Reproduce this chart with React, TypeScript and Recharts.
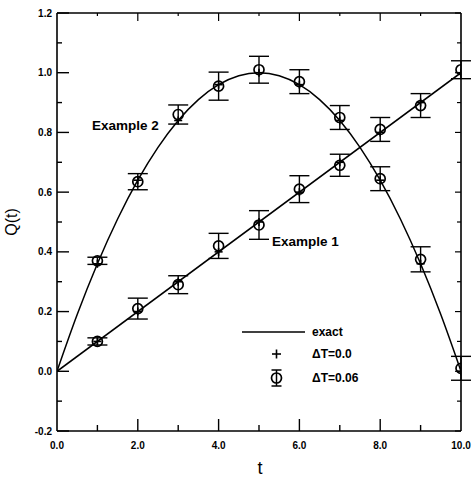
import React from 'react';
import { ComposedChart, Line, Scatter, XAxis, YAxis, ErrorBar, ReferenceLine } from 'recharts';

// ---- data ----
const tValues = [1, 2, 3, 4, 5, 6, 7, 8, 9, 10];

// Example 1, ΔT=0.06 (circles with error bars)
const ex1Q = [0.10, 0.21, 0.29, 0.42, 0.49, 0.61, 0.69, 0.81, 0.89, 1.01];
const ex1Err = [0.012, 0.035, 0.03, 0.042, 0.048, 0.045, 0.037, 0.04, 0.04, 0.03];
// Example 1, ΔT=0.0 (plus markers)
const ex1Plus = [0.10, 0.20, 0.30, 0.40, 0.50, 0.60, 0.70, 0.80, 0.90, 1.00];

// Example 2, ΔT=0.06
const ex2Q = [0.37, 0.635, 0.86, 0.955, 1.01, 0.97, 0.85, 0.645, 0.375, 0.01];
const ex2Err = [0.012, 0.027, 0.032, 0.047, 0.045, 0.04, 0.04, 0.04, 0.042, 0.04];
// Example 2, ΔT=0.0
const ex2Plus = [0.36, 0.64, 0.84, 0.96, 1.00, 0.96, 0.84, 0.64, 0.36, 0.00];

// exact curves
const ex1ExactT = [0, 10];
const ex1ExactQ = [0, 1.0];
const ex2ExactT = [0, 0.5, 1, 1.5, 2, 2.5, 3, 3.5, 4, 4.5, 5, 5.5, 6, 6.5, 7, 7.5, 8, 8.5, 9, 9.5, 10];
const ex2ExactQ = [0, 0.19, 0.36, 0.51, 0.64, 0.75, 0.84, 0.91, 0.96, 0.99, 1.0, 0.99, 0.96, 0.91, 0.84, 0.75, 0.64, 0.51, 0.36, 0.19, 0.0];

// ticks
const xTicks = [0, 1, 2, 3, 4, 5, 6, 7, 8, 9, 10];
const yTicks = [-0.2, -0.1, 0, 0.1, 0.2, 0.3, 0.4, 0.5, 0.6, 0.7, 0.8, 0.9, 1.0, 1.1, 1.2];

const legendLabels = ['exact', 'ΔT=0.0', 'ΔT=0.06'];
const annotation1 = 'Example 1';
const annotation2 = 'Example 2';
const xTitle = 't';
const yTitle = 'Q(t)';

// ---- built tables ----
const ex1Points = tValues.map((t, i) => ({ t, q: ex1Q[i], e: ex1Err[i] }));
const ex2Points = tValues.map((t, i) => ({ t, q: ex2Q[i], e: ex2Err[i] }));
const ex1PlusPts = tValues.map((t, i) => ({ t, q: ex1Plus[i] }));
const ex2PlusPts = tValues.map((t, i) => ({ t, q: ex2Plus[i] }));
const ex1Exact = ex1ExactT.map((t, i) => ({ t, q: ex1ExactQ[i] }));
const ex2Exact = ex2ExactT.map((t, i) => ({ t, q: ex2ExactQ[i] }));

// ---- layout (page coordinates; wrapper is placed at the page origin) ----
const W = 472;
const H = 479;
const M = { top: 13, right: 11, left: 0, bottom: 0 };
const YW = 57;
const XH = 48;
const PW = W - M.left - M.right - YW; // 404
const PH = H - M.top - M.bottom - XH; // 418
const FONT = '"Liberation Sans", Arial, Helvetica, sans-serif';

const YTick = (props: any) => {
  const { x, y, payload } = props;
  const v = payload.value;
  const major = Math.round(v * 10) % 2 === 0;
  const len = major ? 12 : 5;
  return (
    <g>
      <line x1={x} x2={x + len} y1={y} y2={y} stroke="#000" strokeWidth={1.4} />
      <line x1={x + PW} x2={x + PW - (major ? 6 : 4)} y1={y} y2={y} stroke="#000" strokeWidth={1.2} />
      {major && (
        <text x={x - 5} y={y + 3.5} textAnchor="end" fontFamily={FONT} fontWeight="bold" fontSize={10} fill="#000">
          {v.toFixed(1)}
        </text>
      )}
    </g>
  );
};

const XTick = (props: any) => {
  const { x, y, payload } = props;
  const v = payload.value;
  const major = v % 2 === 0;
  const len = major ? 12 : 6;
  return (
    <g>
      {v !== 0 && v !== 10 && (
        <>
          <line x1={x} x2={x} y1={y} y2={y - len} stroke="#000" strokeWidth={1.4} />
          <line x1={x} x2={x} y1={y - PH} y2={y - PH + (major ? 8 : 3)} stroke="#000" strokeWidth={1.2} />
        </>
      )}
      {major && (
        <text x={x} y={y + 18} textAnchor="middle" fontFamily={FONT} fontWeight="bold" fontSize={10} fill="#000">
          {v.toFixed(1)}
        </text>
      )}
    </g>
  );
};

const YLabel = (props: any) => {
  const vb = props.viewBox || { x: 0, y: 0, width: 0, height: 0 };
  const cx = 11;
  const cy = vb.y + vb.height / 2 + 0;
  return (
    <text x={cx} y={cy} transform={`rotate(-90 ${cx} ${cy})`} textAnchor="middle" dominantBaseline="central" fontFamily={FONT} fontSize={16} fill="#000">
      {yTitle}
    </text>
  );
};

const XLabel = (props: any) => {
  const vb = props.viewBox || { x: 0, y: 0, width: 0, height: 0 };
  return (
    <text x={vb.x + vb.width / 2 + 1} y={H - 5} textAnchor="middle" fontFamily={FONT} fontSize={18} fill="#000">
      {xTitle}
    </text>
  );
};

const CircleShape = (props: any) => {
  const { cx, cy } = props;
  if (cx == null || cy == null) return <g />;
  return <circle cx={cx} cy={cy} r={5} fill="none" stroke="#000" strokeWidth={1.7} />;
};

const PlusShape = (props: any) => {
  const { cx, cy } = props;
  if (cx == null || cy == null) return <g />;
  return (
    <g stroke="#000" strokeWidth={1.6}>
      <line x1={cx - 4} x2={cx + 4} y1={cy} y2={cy} />
      <line x1={cx} x2={cx} y1={cy - 4} y2={cy + 4} />
    </g>
  );
};

export default function App() {
  return (
    <div style={{ position: 'absolute', width: W, height: H, left: 0, top: 0, overflow: 'hidden' }}>
      <ComposedChart width={W} height={H} margin={M}>
        <XAxis
          dataKey="t"
          type="number"
          domain={[0, 10]}
          ticks={xTicks}
          interval={0}
          tickSize={0}
          tickMargin={0}
          tick={<XTick />}
          height={XH}
          axisLine={{ stroke: '#000', strokeWidth: 1.6 }}
          tickLine={false}
          allowDataOverflow
          label={<XLabel />}
        />
        <YAxis
          type="number"
          domain={[-0.2, 1.2]}
          ticks={yTicks}
          interval={0}
          tickSize={0}
          tickMargin={0}
          tick={<YTick />}
          width={YW}
          axisLine={{ stroke: '#000', strokeWidth: 1.6 }}
          tickLine={false}
          allowDataOverflow
          label={<YLabel />}
        />
        <ReferenceLine y={1.2} stroke="#000" strokeWidth={1.6} />
        <ReferenceLine x={10} stroke="#000" strokeWidth={1.6} />
        <Line data={ex1Exact} dataKey="q" type="linear" stroke="#000" strokeWidth={1.5} dot={false} isAnimationActive={false} />
        <Line data={ex2Exact} dataKey="q" type="monotone" stroke="#000" strokeWidth={1.5} dot={false} isAnimationActive={false} />
        <Scatter data={ex1Points} dataKey="q" shape={<CircleShape />} isAnimationActive={false}>
          <ErrorBar dataKey="e" direction="y" width={10} stroke="#000" strokeWidth={1.4} />
        </Scatter>
        <Scatter data={ex2Points} dataKey="q" shape={<CircleShape />} isAnimationActive={false}>
          <ErrorBar dataKey="e" direction="y" width={10} stroke="#000" strokeWidth={1.4} />
        </Scatter>
        <Scatter data={ex1PlusPts} dataKey="q" shape={<PlusShape />} isAnimationActive={false} />
        <Scatter data={ex2PlusPts} dataKey="q" shape={<PlusShape />} isAnimationActive={false} />
      </ComposedChart>
      <svg width={W} height={H} style={{ position: 'absolute', left: 0, top: 0, pointerEvents: 'none' }}>
        <text x={92} y={130} fontFamily={FONT} fontWeight="bold" fontSize={13.5} fill="#000">{annotation2}</text>
        <text x={272} y={246} fontFamily={FONT} fontWeight="bold" fontSize={13.5} fill="#000">{annotation1}</text>
        <line x1={242} x2={305} y1={332} y2={332} stroke="#000" strokeWidth={1.6} />
        <text x={312} y={336} fontFamily={FONT} fontWeight="bold" fontSize={12} fill="#000">{legendLabels[0]}</text>
        <g stroke="#000" strokeWidth={1.6}>
          <line x1={272} x2={281} y1={354} y2={354} />
          <line x1={276.5} x2={276.5} y1={349.5} y2={358.5} />
        </g>
        <text x={312} y={358} fontFamily={FONT} fontWeight="bold" fontSize={12} fill="#000">{legendLabels[1]}</text>
        <g stroke="#000" strokeWidth={1.5} fill="none">
          <circle cx={276.5} cy={378} r={5} strokeWidth={1.7} />
          <line x1={276.5} x2={276.5} y1={370} y2={386} />
          <line x1={271.5} x2={281.5} y1={370} y2={370} />
          <line x1={271.5} x2={281.5} y1={386} y2={386} />
        </g>
        <text x={312} y={382} fontFamily={FONT} fontWeight="bold" fontSize={12} fill="#000">{legendLabels[2]}</text>
      </svg>
    </div>
  );
}
